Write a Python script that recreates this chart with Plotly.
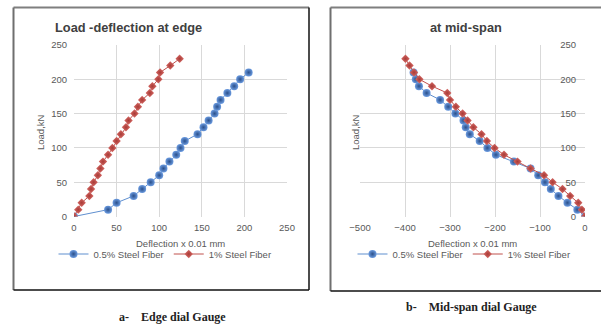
import plotly.graph_objects as go

# ---- data ----
load_a_05 = [0,10,20,30,40,50,60,70,80,90,100,110,120,130,140,150,160,170,180,190,200,210]
defl_a_05 = [0,40,50,70,80,90,100,105,112,120,125,130,145,152,158,165,168,172,180,188,195,205]
load_a_1 = [0,10,20,30,40,50,60,70,80,90,100,110,120,130,140,150,160,170,180,190,200,210,220,230]
defl_a_1 = [0,5,9,18,20,23,28,31,34,40,45,50,55,61,64,71,75,80,89,92,99,101,113,124]

load_b_05 = [0,10,20,30,40,50,60,70,80,90,100,110,120,130,140,150,160,170,180,190,200,210]
defl_b_05 = [0,-17,-39,-59,-76,-89,-104,-121,-158,-198,-217,-234,-256,-265,-270,-288,-304,-322,-352,-369,-376,-381]
load_b_1 = [0,10,20,30,40,50,60,70,80,90,100,110,120,130,140,150,160,170,180,190,200,210,220,230]
defl_b_1 = [0,-7,-15,-33,-50,-72,-91,-121,-150,-180,-201,-218,-230,-248,-261,-272,-287,-300,-306,-340,-368,-380,-390,-399]

series_names = ["0.5% Steel Fiber", "1% Steel Fiber"]
titles = ["Load -deflection at edge", "at mid-span"]
captions = ["a-&nbsp;&nbsp;&nbsp; Edge dial Gauge", "b-&nbsp;&nbsp;&nbsp; Mid-span dial Gauge"]
x_title = "Deflection x 0.01 mm"
y_title = "Load,kN"

BLUE_LINE = "#5f8fcf"
BLUE_DARK = "#2a4f8a"
W, H = 601, 324
FONT = "Liberation Sans"
GRAY = "#595959"

def px(x):
    return x / W

def py(y):
    return (H - y) / H

fig = go.Figure()

def add_pair(x05, y05, x1, y1, xa, ya, leg):
    fig.add_trace(go.Scatter(
        x=x05, y=y05, mode="lines+markers", name=series_names[0],
        xaxis=xa, yaxis=ya, legend=leg,
        line=dict(color=BLUE_LINE, width=1),
        marker=dict(symbol="circle", size=8, color="#6b9be0",
                    gradient=dict(type="radial", color=BLUE_DARK),
                    line=dict(width=0))))
    fig.add_trace(go.Scatter(
        x=x1, y=y1, mode="lines+markers", name=series_names[1],
        xaxis=xa, yaxis=ya, legend=leg,
        line=dict(color="#c0504d", width=1),
        marker=dict(symbol="diamond", size=6.5, color="#d66a66",
                    gradient=dict(type="radial", color="#a83a36"),
                    line=dict(width=0))))

add_pair(defl_a_05, load_a_05, defl_a_1, load_a_1, "x", "y", "legend")
add_pair(defl_b_05, load_b_05, defl_b_1, load_b_1, "x2", "y2", "legend2")

axis_common = dict(
    showgrid=True, gridcolor="#d9d9d9", gridwidth=1,
    zeroline=False, showline=False, ticks="", automargin=False,
    tickfont=dict(family=FONT, size=9.5, color=GRAY),
)

ydom = [py(216.5), py(45)]
fig.update_layout(
    width=W, height=H, margin=dict(l=0, r=0, t=0, b=0, pad=0, autoexpand=False),
    paper_bgcolor="white", plot_bgcolor="white",
    xaxis=dict(domain=[px(74), px(287)], range=[0, 250], dtick=50,
               anchor="y", ticklabelstandoff=4, **axis_common),
    yaxis=dict(domain=ydom, range=[0, 250], dtick=50, anchor="x",
               ticklabelstandoff=6, **axis_common),
    xaxis2=dict(domain=[px(360), px(585)], range=[-500, 0], dtick=100,
                anchor="y2", ticklabelstandoff=4, **axis_common),
    yaxis2=dict(domain=ydom, range=[0, 250], dtick=50, anchor="free",
                position=px(585), side="left",
                ticklabelstandoff=9, **axis_common),
    legend=dict(orientation="h", x=px(165), y=py(254), xanchor="center",
                yanchor="middle", font=dict(family=FONT, size=9.5, color=GRAY),
                bgcolor="rgba(0,0,0,0)", itemwidth=30, tracegroupgap=0),
    legend2=dict(orientation="h", x=px(464), y=py(254), xanchor="center",
                 yanchor="middle", font=dict(family=FONT, size=9.5, color=GRAY),
                 bgcolor="rgba(0,0,0,0)", itemwidth=30, tracegroupgap=0),
)

def A(text, x, y, size, family=FONT, color=GRAY, angle=0):
    return dict(text=text, x=px(x), y=py(y), xref="paper", yref="paper",
                xanchor="center", yanchor="middle", showarrow=False, textangle=angle,
                font=dict(family=family, size=size, color=color))

ann = [
    A("<b>" + titles[0] + "</b>", 128, 27, 12.8, color="#404040"),
    A("<b>" + titles[1] + "</b>", 466, 27, 12.8, color="#404040"),
    A(x_title, 180.5, 243, 9.5),
    A(x_title, 472.5, 243, 9.5),
    A(y_title, 40, 132, 9.5, angle=-90),
    A(y_title, 355, 132, 9.5, angle=-90),
    A("<b>" + captions[0] + "</b>", 172, 317, 12, family="Liberation Serif", color="#222222"),
    A("<b>" + captions[1] + "</b>", 471, 307, 12, family="Liberation Serif", color="#222222"),
]
fig.update_layout(annotations=ann)

# frames
shapes = []
def frame(x0, y0, x1, y1):
    shapes.append(dict(type="line", xref="paper", yref="paper", x0=px(x0), x1=px(x1), y0=py(y0), y1=py(y0),
                       line=dict(color="#7f7f7f", width=2)))
    shapes.append(dict(type="line", xref="paper", yref="paper", x0=px(x0), x1=px(x0), y0=py(y0), y1=py(y1),
                       line=dict(color="#6f6f6f", width=2)))
    shapes.append(dict(type="line", xref="paper", yref="paper", x0=px(x1), x1=px(x1), y0=py(y0), y1=py(y1),
                       line=dict(color="#111111", width=1.5)))
    shapes.append(dict(type="line", xref="paper", yref="paper", x0=px(x0), x1=px(x1), y0=py(y1), y1=py(y1),
                       line=dict(color="#111111", width=1.5)))
frame(13.5, 7.5, 309, 290)
frame(330.5, 7.5, 605, 291)
fig.update_layout(shapes=shapes)

fig.write_html("out.html", config={"displayModeBar": False},
               post_script="document.body.style.margin='0';document.body.style.overflow='hidden';")
